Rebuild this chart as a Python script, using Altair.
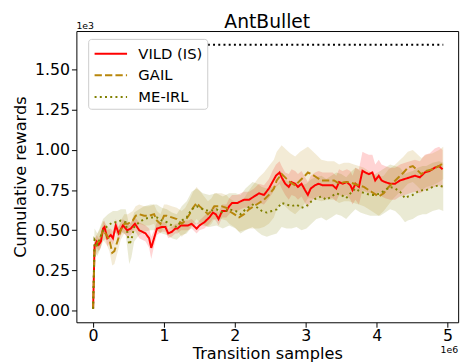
import altair as alt
import pandas as pd

# (transition samples [1e6], mean cumulative reward [1e3], std [1e3])
VILD = [
    (0.00, 0.01, 0.00), (0.02, 0.40, 0.04), (0.05, 0.43, 0.04), (0.08, 0.41, 0.04),
    (0.11, 0.43, 0.04), (0.14, 0.51, 0.04), (0.16, 0.52, 0.04), (0.20, 0.45, 0.05),
    (0.25, 0.47, 0.04), (0.28, 0.45, 0.04), (0.32, 0.53, 0.04), (0.36, 0.48, 0.04),
    (0.42, 0.53, 0.04), (0.48, 0.50, 0.04), (0.53, 0.51, 0.04), (0.59, 0.54, 0.04),
    (0.65, 0.50, 0.05), (0.74, 0.48, 0.05), (0.79, 0.45, 0.06), (0.82, 0.39, 0.07),
    (0.86, 0.45, 0.05), (0.90, 0.51, 0.04), (0.97, 0.52, 0.03), (1.02, 0.52, 0.03),
    (1.06, 0.48, 0.03), (1.11, 0.49, 0.03), (1.16, 0.51, 0.03), (1.19, 0.51, 0.03),
    (1.24, 0.53, 0.03), (1.34, 0.53, 0.03), (1.39, 0.54, 0.03), (1.46, 0.51, 0.03),
    (1.50, 0.53, 0.03), (1.57, 0.55, 0.04), (1.64, 0.58, 0.04), (1.69, 0.61, 0.04),
    (1.73, 0.60, 0.04), (1.77, 0.57, 0.04), (1.82, 0.62, 0.04), (1.88, 0.62, 0.04),
    (1.92, 0.65, 0.05), (1.96, 0.67, 0.05), (2.04, 0.67, 0.05), (2.08, 0.68, 0.05),
    (2.13, 0.69, 0.05), (2.20, 0.69, 0.05), (2.27, 0.71, 0.05), (2.34, 0.73, 0.06),
    (2.41, 0.72, 0.06), (2.48, 0.76, 0.06), (2.53, 0.80, 0.07), (2.58, 0.84, 0.07),
    (2.63, 0.86, 0.07), (2.66, 0.83, 0.07), (2.71, 0.79, 0.07), (2.76, 0.77, 0.08),
    (2.80, 0.80, 0.08), (2.85, 0.79, 0.08), (2.89, 0.77, 0.08), (2.94, 0.79, 0.08),
    (2.99, 0.75, 0.08), (3.03, 0.72, 0.08), (3.07, 0.76, 0.08), (3.13, 0.78, 0.08),
    (3.18, 0.79, 0.08), (3.24, 0.78, 0.08), (3.31, 0.78, 0.08), (3.38, 0.78, 0.08),
    (3.43, 0.76, 0.08), (3.47, 0.80, 0.08), (3.52, 0.79, 0.08), (3.58, 0.80, 0.08),
    (3.63, 0.78, 0.09), (3.66, 0.75, 0.09), (3.70, 0.79, 0.10), (3.75, 0.77, 0.11),
    (3.80, 0.87, 0.12), (3.84, 0.86, 0.12), (3.89, 0.85, 0.12), (3.94, 0.86, 0.11),
    (3.98, 0.81, 0.10), (4.03, 0.84, 0.10), (4.07, 0.81, 0.10), (4.12, 0.80, 0.10),
    (4.19, 0.79, 0.10), (4.26, 0.79, 0.10), (4.33, 0.81, 0.10), (4.40, 0.82, 0.10),
    (4.47, 0.83, 0.10), (4.54, 0.84, 0.10), (4.61, 0.83, 0.10), (4.68, 0.86, 0.11),
    (4.75, 0.87, 0.11), (4.82, 0.89, 0.12), (4.88, 0.90, 0.12), (4.93, 0.88, 0.12),
]

GAIL = [
    (0.00, 0.01, 0.00), (0.02, 0.38, 0.06), (0.06, 0.42, 0.06), (0.09, 0.44, 0.06),
    (0.14, 0.50, 0.06), (0.19, 0.47, 0.06), (0.23, 0.44, 0.07), (0.27, 0.36, 0.08),
    (0.30, 0.37, 0.08), (0.35, 0.44, 0.07), (0.39, 0.50, 0.06), (0.44, 0.54, 0.06),
    (0.49, 0.54, 0.06), (0.56, 0.56, 0.06), (0.60, 0.59, 0.06), (0.65, 0.60, 0.06),
    (0.72, 0.59, 0.06), (0.79, 0.59, 0.06), (0.86, 0.60, 0.06), (0.90, 0.56, 0.06),
    (0.95, 0.54, 0.06), (1.00, 0.59, 0.07), (1.04, 0.59, 0.07), (1.11, 0.58, 0.07),
    (1.18, 0.57, 0.07), (1.25, 0.54, 0.08), (1.30, 0.56, 0.08), (1.36, 0.60, 0.09),
    (1.41, 0.64, 0.10), (1.46, 0.67, 0.10), (1.50, 0.65, 0.10), (1.55, 0.63, 0.09),
    (1.62, 0.60, 0.08), (1.67, 0.62, 0.08), (1.71, 0.65, 0.08), (1.76, 0.65, 0.08),
    (1.81, 0.65, 0.08), (1.88, 0.64, 0.08), (1.92, 0.62, 0.08), (1.99, 0.60, 0.08),
    (2.06, 0.58, 0.09), (2.13, 0.60, 0.10), (2.20, 0.63, 0.12), (2.27, 0.65, 0.14),
    (2.34, 0.67, 0.16), (2.41, 0.69, 0.17), (2.48, 0.72, 0.18), (2.55, 0.76, 0.18),
    (2.59, 0.81, 0.18), (2.66, 0.85, 0.18), (2.73, 0.82, 0.18), (2.78, 0.80, 0.18),
    (2.85, 0.78, 0.18), (2.92, 0.81, 0.18), (2.99, 0.84, 0.17), (3.03, 0.86, 0.16),
    (3.08, 0.85, 0.15), (3.15, 0.83, 0.14), (3.22, 0.81, 0.13), (3.31, 0.81, 0.12),
    (3.40, 0.81, 0.12), (3.47, 0.79, 0.12), (3.54, 0.80, 0.12), (3.61, 0.80, 0.12),
    (3.68, 0.79, 0.12), (3.75, 0.78, 0.12), (3.82, 0.77, 0.12), (3.89, 0.75, 0.12),
    (3.96, 0.73, 0.12), (4.03, 0.71, 0.12), (4.10, 0.73, 0.11), (4.17, 0.77, 0.11),
    (4.24, 0.80, 0.10), (4.31, 0.83, 0.10), (4.38, 0.86, 0.10), (4.44, 0.89, 0.10),
    (4.51, 0.90, 0.10), (4.56, 0.88, 0.10), (4.63, 0.85, 0.10), (4.70, 0.87, 0.10),
    (4.79, 0.88, 0.10), (4.88, 0.90, 0.10), (4.94, 0.92, 0.10),
]

MEIRL = [
    (0.00, 0.01, 0.00), (0.02, 0.44, 0.07), (0.06, 0.41, 0.07), (0.09, 0.44, 0.07),
    (0.14, 0.50, 0.07), (0.21, 0.53, 0.07), (0.28, 0.55, 0.07), (0.34, 0.55, 0.07),
    (0.39, 0.56, 0.07), (0.46, 0.55, 0.08), (0.51, 0.41, 0.12), (0.54, 0.44, 0.11),
    (0.58, 0.52, 0.09), (0.65, 0.55, 0.08), (0.72, 0.57, 0.08), (0.81, 0.58, 0.08),
    (0.90, 0.58, 0.08), (0.97, 0.56, 0.08), (1.04, 0.55, 0.08), (1.11, 0.53, 0.08),
    (1.18, 0.52, 0.08), (1.25, 0.56, 0.09), (1.32, 0.58, 0.10), (1.39, 0.63, 0.11),
    (1.46, 0.65, 0.11), (1.55, 0.63, 0.10), (1.64, 0.62, 0.10), (1.74, 0.63, 0.10),
    (1.83, 0.61, 0.10), (1.92, 0.63, 0.10), (2.01, 0.62, 0.11), (2.08, 0.60, 0.12),
    (2.15, 0.63, 0.13), (2.25, 0.66, 0.14), (2.32, 0.64, 0.15), (2.38, 0.62, 0.15),
    (2.45, 0.61, 0.15), (2.52, 0.62, 0.15), (2.59, 0.63, 0.15), (2.66, 0.67, 0.15),
    (2.73, 0.66, 0.15), (2.80, 0.65, 0.14), (2.87, 0.66, 0.14), (2.94, 0.64, 0.14),
    (3.01, 0.65, 0.14), (3.08, 0.68, 0.14), (3.15, 0.70, 0.13), (3.22, 0.71, 0.13),
    (3.29, 0.69, 0.13), (3.36, 0.71, 0.13), (3.43, 0.73, 0.13), (3.50, 0.72, 0.13),
    (3.57, 0.70, 0.13), (3.63, 0.73, 0.13), (3.70, 0.76, 0.13), (3.77, 0.74, 0.13),
    (3.84, 0.73, 0.13), (3.91, 0.72, 0.13), (3.98, 0.72, 0.13), (4.05, 0.73, 0.14),
    (4.12, 0.75, 0.14), (4.19, 0.77, 0.14), (4.26, 0.76, 0.14), (4.33, 0.74, 0.15),
    (4.40, 0.70, 0.15), (4.44, 0.71, 0.15), (4.51, 0.72, 0.15), (4.58, 0.74, 0.15),
    (4.65, 0.75, 0.15), (4.70, 0.75, 0.15), (4.79, 0.77, 0.15), (4.88, 0.78, 0.15),
    (4.94, 0.77, 0.15),
]

METHODS = ["VILD (IS)", "GAIL", "ME-IRL"]
COLORS = ["#ff0000", "#b8860b", "#808000"]
DASHES = [[1, 0], [7.4, 3.2], [2, 3.3]]
EXPERT_REWARD = 1.656      # 1e3
EXPERT_X = [0.0, 4.94]     # 1e6
X_TICKS = [0, 1, 2, 3, 4, 5]
Y_TICKS = [0.0, 0.25, 0.5, 0.75, 1.0, 1.25, 1.5]
X_DOMAIN = [-0.236, 5.15]
Y_DOMAIN = [-0.074, 1.742]
TITLE = "AntBullet"

rows = []
for name, series in zip(METHODS, [VILD, GAIL, MEIRL]):
    for x, m, s in series:
        rows.append({"method": name, "x": x, "y": m, "lo": m - s, "hi": m + s})
df = pd.DataFrame(rows)

FONT = "DejaVu Sans"
xs = alt.Scale(domain=X_DOMAIN, nice=False, zero=False)
ys = alt.Scale(domain=Y_DOMAIN, nice=False, zero=False)
xaxis = alt.Axis(values=X_TICKS, format="d", title="Transition samples", grid=False,
                 domain=False, tickSize=5, tickColor="black", labelColor="black",
                 titleColor="black", labelFontSize=16, titleFontSize=16.4,
                 labelFont=FONT, titleFont=FONT, titleFontWeight="normal",
                 labelPadding=1, titlePadding=2)
yaxis = alt.Axis(values=Y_TICKS, format=".2f", title="Cumulative rewards", grid=False,
                 domain=False, tickSize=5, tickColor="black", labelColor="black",
                 titleColor="black", labelFontSize=16, titleFontSize=16.4,
                 labelFont=FONT, titleFont=FONT, titleFontWeight="normal",
                 labelPadding=2, titlePadding=6)

cscale = alt.Scale(domain=METHODS, range=COLORS)
dscale = alt.Scale(domain=METHODS, range=DASHES)
legend = alt.Legend(title=None, orient="none", legendX=12, legendY=8, fillColor="white",
                    strokeColor="#cccccc", padding=4, cornerRadius=3,
                    labelFontSize=15, labelFont=FONT, labelColor="black",
                    symbolType="M-1.65,0H1.65", symbolSize=400, symbolStrokeWidth=2,
                    symbolOpacity=1, symbolOffset=8, rowPadding=3, labelOffset=17)

bands = alt.Chart(df).mark_area(opacity=0.17).encode(
    x=alt.X("x:Q", scale=xs, axis=xaxis),
    y=alt.Y("lo:Q", scale=ys, axis=yaxis),
    y2="hi:Q",
    color=alt.Color("method:N", scale=cscale, legend=legend),
)

lines = alt.Chart(df).mark_line(strokeWidth=2).encode(
    x=alt.X("x:Q", scale=xs),
    y=alt.Y("y:Q", scale=ys),
    color=alt.Color("method:N", scale=cscale, legend=legend),
    strokeDash=alt.StrokeDash("method:N", scale=dscale, legend=legend),
)

expert_df = pd.DataFrame({"x": [EXPERT_X[0]], "x2": [EXPERT_X[1]], "y": [EXPERT_REWARD]})
expert = alt.Chart(expert_df).mark_rule(color="black", strokeWidth=2, strokeDash=[2, 3.3]).encode(
    x=alt.X("x:Q", scale=xs), x2="x2:Q", y=alt.Y("y:Q", scale=ys)
)

title_mark = alt.Chart(pd.DataFrame({"x": [(X_DOMAIN[0] + X_DOMAIN[1]) / 2], "y": [Y_DOMAIN[1]], "t": [TITLE]})).mark_text(
    align="center", baseline="alphabetic", dy=-3.5, fontSize=19, font=FONT, color="black"
).encode(x=alt.X("x:Q", scale=xs), y=alt.Y("y:Q", scale=ys), text="t:N")

e3 = alt.Chart(pd.DataFrame({"x": [X_DOMAIN[0]], "y": [Y_DOMAIN[1]], "t": ["1e3"]})).mark_text(
    align="left", baseline="alphabetic", dy=-2.5, fontSize=9.5, font=FONT, color="black"
).encode(x=alt.X("x:Q", scale=xs), y=alt.Y("y:Q", scale=ys), text="t:N")

e6 = alt.Chart(pd.DataFrame({"x": [X_DOMAIN[1]], "y": [Y_DOMAIN[0]], "t": ["1e6"]})).mark_text(
    align="right", baseline="alphabetic", dy=31, fontSize=9.5, font=FONT, color="black"
).encode(x=alt.X("x:Q", scale=xs), y=alt.Y("y:Q", scale=ys), text="t:N")

chart = alt.layer(bands, expert, lines, title_mark, e3, e6).properties(
    width=388, height=296,
    padding={"left": 69.5, "top": 20.5, "right": 10, "bottom": 40},
    autosize=alt.AutoSizeParams(type="none"),
).configure(
    background="white",
    view=alt.ViewConfig(stroke="black", strokeWidth=1),
)

chart.save("out.html", embed_options={"renderer": "svg", "actions": False})
